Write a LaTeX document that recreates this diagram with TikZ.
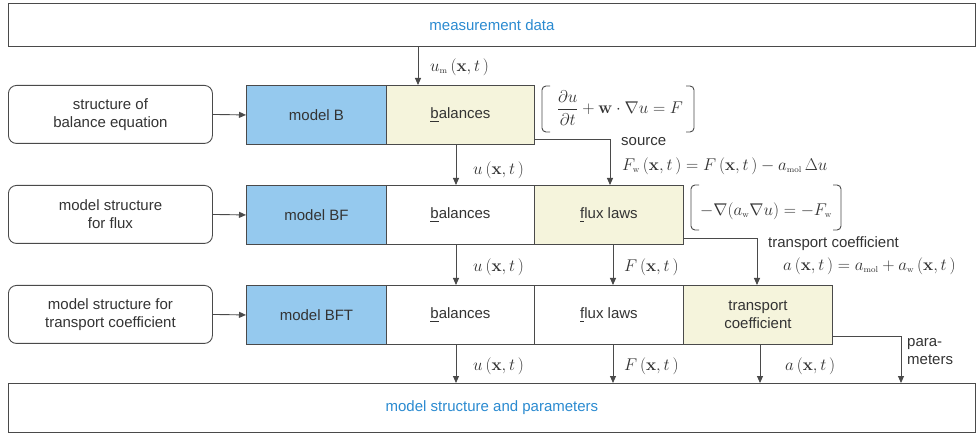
\documentclass[tikz,border=0pt]{standalone}
\usepackage{fix-cm}
\usepackage{amsmath}
\usepackage[no-math]{fontspec}
\setmainfont{Liberation Sans}
\usetikzlibrary{arrows.meta,calc}
\definecolor{lineg}{HTML}{4A4A4A}
\definecolor{blfill}{HTML}{95C9EE}
\definecolor{yefill}{HTML}{F5F4DC}
\definecolor{txtblue}{HTML}{2A8AD0}
\definecolor{txtg}{HTML}{333333}
\newcommand{\um}{u_{\scriptscriptstyle\mathrm{m}}}
\newcommand{\amol}{a_{\scriptscriptstyle\mathrm{mol}}}
\newcommand{\aw}{a_{\scriptscriptstyle\mathrm{w}}}
\newcommand{\Fw}{F_{\scriptscriptstyle\mathrm{w}}}
\newcommand{\xt}{\left(\mathbf{x},t\,\right)}
\begin{document}
\begin{tikzpicture}[x=1pt,y=-1pt,
  every node/.style={text=txtg,font=\fontsize{15}{18}\selectfont},
  box/.style={draw=lineg,line width=0.9pt,anchor=north west,inner sep=0pt,align=center},
  bigbox/.style={box,minimum width=967pt},
  leftbox/.style={box,rounded corners=8pt,minimum width=204pt,minimum height=58pt},
  modbox/.style={box,fill=blfill,minimum width=140pt,minimum height=59pt},
  cell/.style={box,minimum width=148pt,minimum height=59pt},
  ycell/.style={cell,fill=yefill},
  arr/.style={draw=lineg,line width=0.9pt,-{Triangle[length=7pt,width=6pt]}},
  brk/.style={draw=lineg,line width=0.9pt,rounded corners=4pt},
  lab/.style={anchor=west,inner sep=0pt,font=\fontsize{17}{20}\selectfont},
  slab/.style={anchor=west,inner sep=0pt,align=left,font=\fontsize{15}{18}\selectfont}
]
\useasboundingbox (0,0) rectangle (980,438);
% top and bottom
\node[bigbox,minimum height=43pt] (top) at (8,3) {};
\node[text=txtblue] at (top.center) {measurement data};
\node[bigbox,minimum height=49pt] (bot) at (8,383) {};
\node[text=txtblue] at (bot.center) {model structure and parameters};
% left boxes
\node[leftbox] (l1) at (8,85) {structure of\\balance equation};
\node[leftbox] (l2) at (8,185) {model structure\\for flux};
\node[leftbox] (l3) at (8,285) {model structure for\\transport coefficient};
% row 1
\node[modbox] (m1) at (246,85) {model B};
\node[ycell,minimum width=148pt] (b1) at (386,85) {\underline{b}alances};
% row 2
\node[modbox] (m2) at (246,185) {model BF};
\node[cell] (b2) at (386,185) {\underline{b}alances};
\node[ycell,minimum width=149pt] (f2) at (534,185) {\underline{f}lux laws};
% row 3
\node[modbox] (m3) at (246,285) {model BFT};
\node[cell] (b3) at (386,285) {\underline{b}alances};
\node[cell,minimum width=149pt] (f3) at (534,285) {\underline{f}lux laws};
\node[ycell,minimum width=149pt] (t3) at (683,285) {transport\\coefficient};
% left arrows
\draw[arr] (l1.east) -- (m1.west);
\draw[arr] (l2.east) -- (m2.west);
\draw[arr] (l3.east) -- (m3.west);
% u_m
\coordinate (cum) at ($(b1.north west)+(32,0)$);
\draw[arr] (top.south -| cum) -- (cum);
\node[lab] at (430,67) {$\um\xt$};
% bracket eq 1
\node[inner sep=0pt,font=\fontsize{17}{20}\selectfont] (eq1) at (620,108) {$\dfrac{\partial u}{\partial t}+\mathbf{w}\cdot\nabla u=F$};
\draw[brk] (550,86) -- (542,86) -- (542,132) -- (550,132);
\draw[brk] (686,86) -- (694,86) -- (694,132) -- (686,132);
% row1 -> row2
\coordinate (c12) at ($(b2.north west)+(70,0)$);
\draw[arr] (b1.south -| c12) -- (c12);
\node[lab] at (473,170) {$u\xt$};
\coordinate (src) at ($(f2.north west)+(76,0)$);
\coordinate (srcs) at ($(b1.south east)+(0,-5)$);
\draw[arr] (srcs) -| (src);
\node[slab] at (621,142) {source};
\node[lab] at (622,166) {$\Fw\xt = F\xt - \amol\,\Delta u$};
% bracket eq 2
\node[inner sep=0pt,font=\fontsize{17}{20}\selectfont] (eq2) at (766,211) {$-\nabla\!\left(\aw\nabla u\right)=-\Fw$};
\draw[brk] (699,185) -- (691,185) -- (691,230) -- (699,230);
\draw[brk] (833,185) -- (841,185) -- (841,230) -- (833,230);
% row2 -> row3
\coordinate (c23a) at ($(b3.north west)+(70,0)$);
\coordinate (c23b) at ($(f3.north west)+(79,0)$);
\coordinate (c23c) at ($(t3.north west)+(74,0)$);
\draw[arr] (b2.south -| c23a) -- (c23a);
\draw[arr] (f2.south -| c23b) -- (c23b);
\coordinate (tcs) at ($(f2.south east)+(0,-6)$);
\draw[arr] (tcs) -| (c23c);
\node[lab] at (473,267) {$u\xt$};
\node[lab] at (624,267) {$F\xt$};
\node[slab] at (768,244) {transport coefficient};
\node[lab] at (783,266) {$a\xt = \amol + \aw\xt$};
% row3 -> bottom
\coordinate (c3a) at ($(b3.south west)+(70,0)$);
\coordinate (c3b) at ($(f3.south west)+(79,0)$);
\coordinate (c3c) at ($(t3.south west)+(77,0)$);
\coordinate (c3d) at (901,383);
\draw[arr] (c3a) -- (bot.north -| c3a);
\draw[arr] (c3b) -- (bot.north -| c3b);
\draw[arr] (c3c) -- (bot.north -| c3c);
\coordinate (pars) at ($(t3.south east)+(0,-8)$);
\draw[arr] (pars) -| (bot.north -| c3d);
\node[lab] at (473,366) {$u\xt$};
\node[lab] at (624,366) {$F\xt$};
\node[lab] at (785,366) {$a\xt$};
\node[slab] at (907,352) {para-\\meters};
\end{tikzpicture}
\end{document}
